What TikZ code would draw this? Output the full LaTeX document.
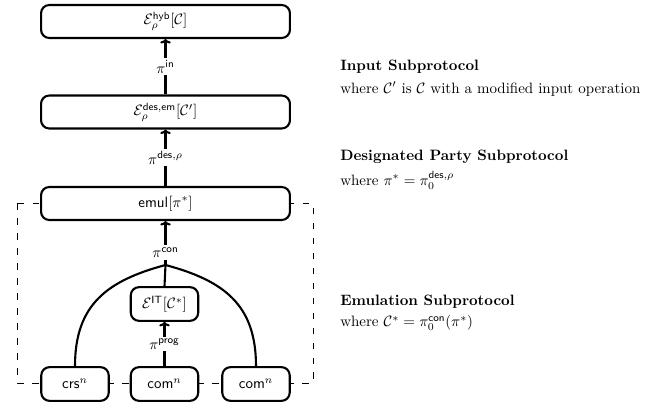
\documentclass[tikz,border=0pt]{standalone}
\usepackage{amsmath}
\usetikzlibrary{arrows.meta}
\begin{document}
\begin{tikzpicture}[x=0.667pt,y=-0.667pt,
  box/.style={draw,line width=1.4pt,rounded corners=5.5pt,fill=white,inner sep=0pt,minimum height=22pt},
  wide/.style={box,minimum width=166pt},
  small/.style={box,minimum width=45pt,minimum height=22.5pt},
  edge/.style={line width=1.4pt},
  lbl/.style={fill=white,inner sep=1.5pt},
  note/.style={anchor=west,inner sep=0pt},
  >={To[width=7pt,length=3pt]}]
\useasboundingbox (0,0) rectangle (670,403);
% boundary of the emulation subprotocol
\draw[line width=0.6pt,dash pattern=on 4.5pt off 5.5pt] (17,203) rectangle (313,383);
% protocol stack
\node[wide] (hyb) at (165.5,21.5) {$\mathcal{E}^{\mathsf{hyb}}_{\rho}[\mathcal{C}]$};
\node[wide] (desem) at (165.5,112) {$\mathcal{E}^{\mathsf{des,em}}_{\rho}[\mathcal{C}']$};
\node[wide] (emul) at (165.5,203.5) {$\mathsf{emul}[\pi^*]$};
\node[small] (it) at (164.5,304) {$\mathcal{E}^{\mathsf{IT}}[\mathcal{C}^*]$};
\node[small] (crs) at (75,384) {$\mathsf{crs}^n$};
\node[small] (com1) at (164.5,384) {$\mathsf{com}^n$};
\node[small] (com2) at (256,384) {$\mathsf{com}^n$};
\coordinate (join) at (165.5,265);
% connectors
\draw[edge,->] (desem.north) -- node[lbl]{$\pi^{\mathsf{in}}$} (hyb.south);
\draw[edge,->] (emul.north) -- node[lbl]{$\pi^{\mathsf{des},\rho}$} (desem.south);
\draw[edge,->] (join) -- node[lbl,pos=0.28]{$\pi^{\mathsf{con}}$} (emul.south);
\draw[edge,->] (com1.north) -- node[lbl]{$\pi^{\mathsf{prog}}$} (it.south);
\draw[edge] (join) -- (it.north);
\draw[edge] (join) to[out=195,in=90,looseness=1.15] (crs.north);
\draw[edge] (join) to[out=-15,in=90,looseness=1.15] (com2.north);
% descriptions
\node[note] (t1) at (340,67) {\textbf{Input Subprotocol}};
\node[note] (d1) at (340,89) {where $\mathcal{C}'$ is $\mathcal{C}$ with a modified input operation};
\node[note] (t2) at (340,157) {\textbf{Designated Party Subprotocol}};
\node[note] (d2) at (340,180) {where $\pi^* = \pi_0^{\mathsf{des},\rho}$};
\node[note] (t3) at (340,302) {\textbf{Emulation Subprotocol}};
\node[note] (d3) at (340,323) {where $\mathcal{C}^* = \pi_0^{\mathsf{con}}(\pi^*)$};
\end{tikzpicture}
\end{document}
